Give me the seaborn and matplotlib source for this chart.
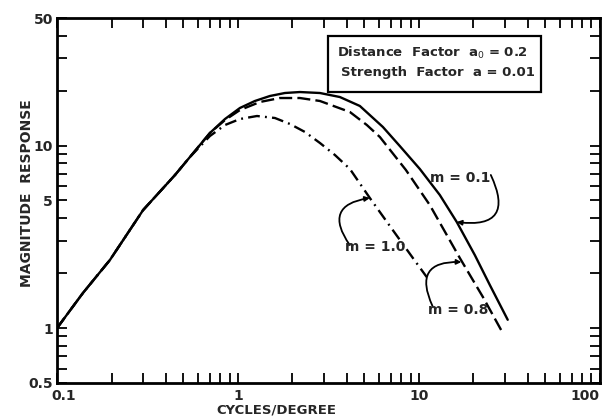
import numpy as np
import pandas as pd
import matplotlib
matplotlib.use("Agg")
import matplotlib.pyplot as plt
from matplotlib.patches import Rectangle, FancyArrowPatch
from matplotlib.ticker import FixedLocator, NullFormatter, FixedFormatter
from matplotlib.transforms import ScaledTranslation
import seaborn as sns

# Spatial frequency (cycles/degree) and magnitude response for three m values
freq_m01 = [0.1, 0.139, 0.196, 0.299, 0.449, 0.543, 0.70, 0.848, 1.026, 1.241, 1.502,
            1.818, 2.20, 2.84, 3.66, 4.72, 6.33, 7.85, 10.13, 13.06, 16.21, 20.4, 24.7, 31.0]
resp_m01 = [1.0, 1.556, 2.36, 4.43, 6.90, 8.66, 11.72, 13.98, 16.07, 17.55, 18.69,
            19.41, 19.65, 19.41, 18.45, 16.48, 12.64, 9.94, 7.44, 5.36, 3.81, 2.51, 1.72, 1.11]

freq_m08 = [0.1, 0.139, 0.196, 0.299, 0.449, 0.543, 0.70, 0.848, 1.026, 1.323, 1.706,
            2.20, 2.84, 4.16, 5.16, 6.09, 8.48, 11.5, 16.85, 22.6, 29.1]
resp_m08 = [1.0, 1.556, 2.36, 4.43, 6.90, 8.66, 11.72, 13.8, 15.66, 17.33, 18.22,
            18.22, 17.55, 15.27, 12.96, 11.14, 7.35, 4.72, 2.42, 1.48, 0.94]

freq_m10 = [0.1, 0.139, 0.196, 0.299, 0.449, 0.543, 0.70, 0.848, 1.026, 1.274, 1.601,
            1.938, 2.346, 2.84, 3.435, 4.16, 5.36, 6.92, 9.27, 11.07]
resp_m10 = [1.0, 1.556, 2.36, 4.43, 6.90, 8.66, 11.28, 12.96, 13.98, 14.52, 14.16,
            13.13, 11.87, 10.33, 8.88, 7.44, 5.16, 3.62, 2.42, 1.90]

x_major = [0.1, 1, 10, 100]
x_labels = ["0.1", "1", "10", "100"]
y_major = [0.5, 1, 5, 10, 50]
y_labels = ["0.5", "1", "5", "10", "50"]

sns.set_theme(style="ticks")
plt.rcParams["font.family"] = ["DejaVu Sans"]

fig = plt.figure(figsize=(6.07, 4.19), dpi=100)
ax = fig.add_axes([0.094, 0.086, 0.894, 0.871])

lw = 1.7
sns.lineplot(x=freq_m01, y=resp_m01, ax=ax, color="black", lw=lw, sort=False)
sns.lineplot(x=freq_m08, y=resp_m08, ax=ax, color="black", lw=lw, sort=False,
             linestyle=(0, (5.5, 2.2)))
sns.lineplot(x=freq_m10, y=resp_m10, ax=ax, color="black", lw=lw, sort=False,
             linestyle=(0, (5, 2.2, 0.8, 2.2)))

ax.set_xscale("log")
ax.set_yscale("log")
ax.set_xlim(0.1, 100)
ax.set_ylim(0.5, 50)

# Ticks: inward on all four sides
x_minor = [m * d for d in (0.1, 1, 10) for m in range(2, 10)]
y_minor = [0.6, 0.7, 0.8, 0.9, 2, 3, 4, 6, 7, 8, 9, 20, 30, 40]
ax.xaxis.set_major_locator(FixedLocator(x_major))
ax.xaxis.set_major_formatter(FixedFormatter(x_labels))
ax.xaxis.set_minor_locator(FixedLocator(x_minor))
ax.xaxis.set_minor_formatter(NullFormatter())
ax.yaxis.set_major_locator(FixedLocator(y_major))
ax.yaxis.set_major_formatter(FixedFormatter(y_labels))
ax.yaxis.set_minor_locator(FixedLocator(y_minor))
ax.yaxis.set_minor_formatter(NullFormatter())
ax.tick_params(which="both", direction="in", top=True, right=True,
               length=7, width=1.3, color="black")
ax.tick_params(axis="both", which="major", labelsize=10)
ax.tick_params(axis="x", which="major", pad=4)
ax.tick_params(axis="y", which="major", pad=3)
for lab in ax.get_xticklabels() + ax.get_yticklabels():
    lab.set_fontweight("bold")
xt = ax.get_xticklabels()
xt[0].set_transform(xt[0].get_transform() + ScaledTranslation(5 / 72, 0, fig.dpi_scale_trans))
xt[-1].set_ha("right")
for sp in ax.spines.values():
    sp.set_linewidth(2)
    sp.set_color("black")

ax.set_xlabel("CYCLES/DEGREE", fontsize=9.5, fontweight="bold")
ax.xaxis.label.set_va("center")
ax.xaxis.set_label_coords(0.405, -0.074)
ax.set_ylabel("MAGNITUDE  RESPONSE", fontsize=10, fontweight="bold")
ax.yaxis.label.set_va("center")
ax.yaxis.set_label_coords(-0.055, 0.52)

# Parameter box
ax.add_patch(Rectangle((0.499, 0.797), 0.392, 0.154, transform=ax.transAxes,
                       fill=False, edgecolor="black", lw=1.6, zorder=5))
ax.text(0.516, 0.904, "Distance  Factor  a$_0$ = 0.2", transform=ax.transAxes,
        fontsize=9.5, fontweight="bold", va="center", ha="left")
ax.text(0.523, 0.852, "Strength  Factor  a = 0.01", transform=ax.transAxes,
        fontsize=9.5, fontweight="bold", va="center", ha="left")

# Curve labels with hooked leaders
def label(text, txy, start, tip, rad):
    ax.text(txy[0], txy[1], text, fontsize=10, fontweight="bold",
            ha="center", va="center")
    arr = FancyArrowPatch(start, tip, connectionstyle=f"arc3,rad={rad}",
                          arrowstyle="-|>", mutation_scale=7, lw=1.3,
                          color="black", shrinkA=0, shrinkB=0)
    ax.add_patch(arr)

label("m = 0.1", (16.9, 6.64), (25.0, 6.9), (16.21, 3.81), -0.9)
label("m = 1.0", (5.75, 2.78), (4.15, 2.85), (5.36, 5.16), -0.8)
label("m = 0.8", (16.4, 1.26), (11.9, 1.32), (17.2, 2.3), -0.8)

fig.savefig("out.png", dpi=100, facecolor="white")
